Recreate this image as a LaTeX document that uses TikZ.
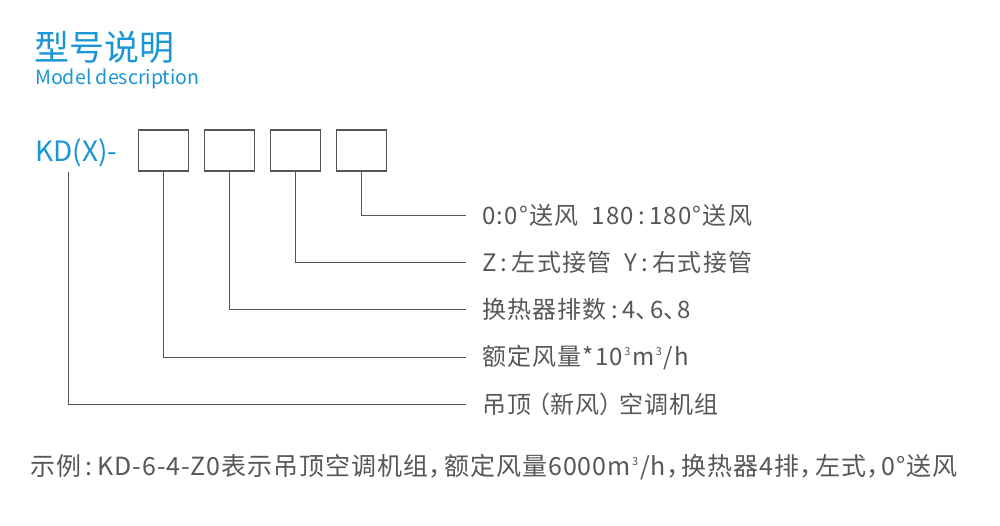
\documentclass[tikz,border=0pt]{standalone}
\usepackage{fontspec}
\setmainfont{Noto Sans CJK SC}
\definecolor{tblue}{HTML}{1A96D4}
\definecolor{tgray}{HTML}{575757}
\definecolor{lgray}{HTML}{555555}
\newcommand{\sps}{\kern0.05em\raisebox{0.75ex}{\fontsize{11}{11}\selectfont 3}\kern0.08em}
\newcommand{\cc}{\kern0.18em:\kern0.18em}
\newcommand{\dn}{\makebox[0.6em][l]{、}}
\newcommand{\cm}{\makebox[0.62em][l]{，}}
\newcommand{\lp}{\makebox[0.8em][r]{（}}
\newcommand{\rp}{\makebox[0.8em][l]{）}}
\begin{document}
\begin{tikzpicture}[x=1pt,y=-1pt,
  box/.style={draw=lgray,line width=1.1pt,minimum width=50pt,minimum height=41pt,inner sep=0pt},
  lab/.style={anchor=west,inner sep=0pt,text=tgray,font=\fontsize{24}{24}\selectfont\addfontfeature{LetterSpace=5}},
  con/.style={draw=lgray,line width=1pt}]
\useasboundingbox (0,0) rectangle (1000,525);
\node[anchor=base west,inner sep=0pt,text=tblue,font=\fontsize{35}{35}\selectfont] (title) at (34,60) {型号说明};
\node[anchor=base west,inner sep=0pt,text=tblue,font=\fontsize{19.6}{19.6}\selectfont] (sub) at (35,84) {Model description};
\node[anchor=base west,inner sep=0pt,text=tblue,font=\fontsize{28}{28}\selectfont] (kd) at (35,161) {KD(X)-};
\node[box] (b1) at (163.5,150.5) {};
\node[box] (b2) at (229.5,150.5) {};
\node[box] (b3) at (295.5,150.5) {};
\node[box] (b4) at (361.5,150.5) {};
\coordinate (kdb) at (68,172);
\node[lab] (l1) at (482,215) {0:0°送风\ \ 180\cc 180°送风};
\node[lab] (l2) at (482,262) {Z\cc 左式接管\ \ Y\cc 右式接管};
\node[lab] (l3) at (482,309) {换热器排数\cc 4\dn 6\dn 8};
\node[lab] (l4) at (482,357) {额定风量*10\sps m\sps/h};
\node[lab] (l5) at (482,404) {吊顶\lp 新风\rp 空调机组};
\draw[con] (b4.south) |- ([xshift=-16pt]l1.west);
\draw[con] (b3.south) |- ([xshift=-16pt]l2.west);
\draw[con] (b2.south) |- ([xshift=-16pt]l3.west);
\draw[con] (b1.south) |- ([xshift=-16pt]l4.west);
\draw[con] (kdb) |- ([xshift=-16pt]l5.west);
\node[anchor=west,inner sep=0pt,text=tgray,font=\fontsize{25}{25}\selectfont\addfontfeature{LetterSpace=4}] (ex) at (30,467) {示例\cc KD-6-4-Z0表示吊顶空调机组\cm 额定风量6000m\sps/h\cm 换热器4排\cm 左式\cm 0°送风};
\end{tikzpicture}
\end{document}
